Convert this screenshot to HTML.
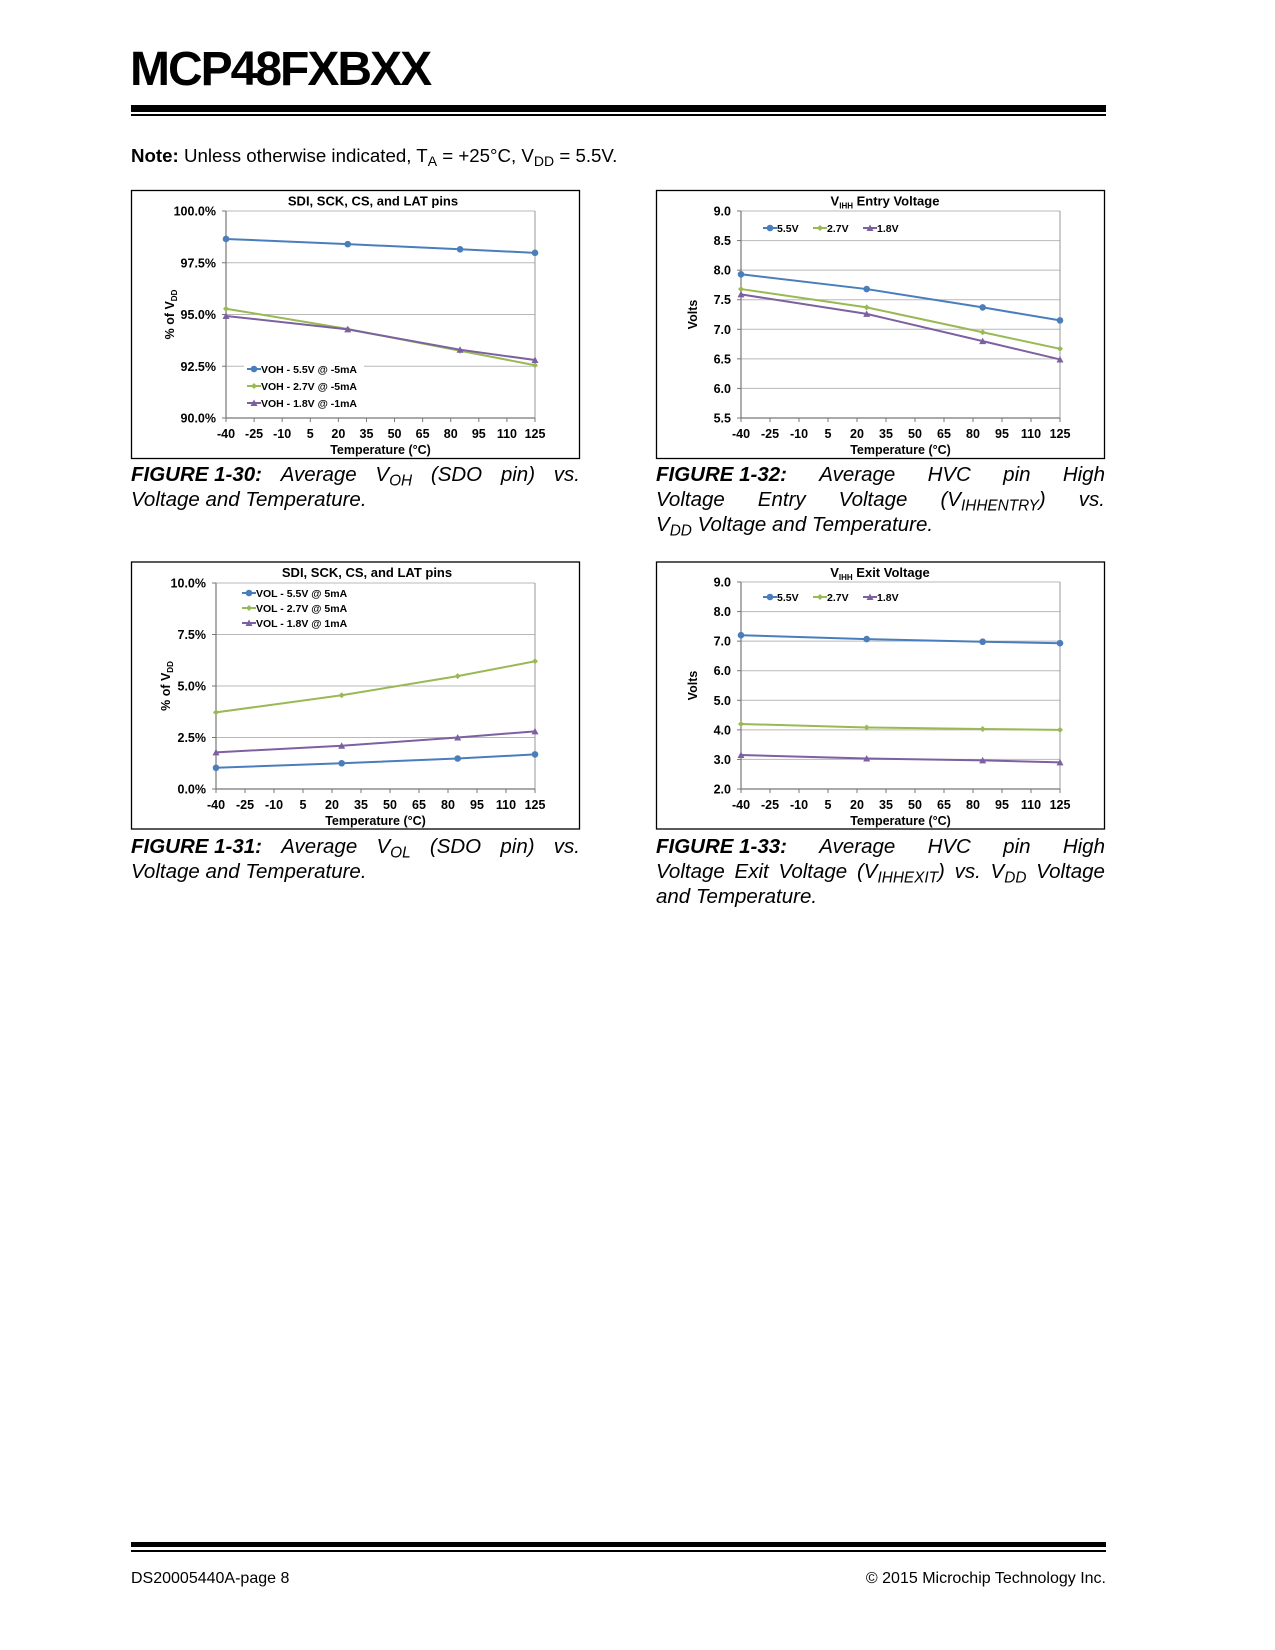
<!DOCTYPE html>
<html><head><meta charset="utf-8">
<style>
body{margin:0;background:#fff;}
#page{position:relative;width:1275px;height:1650px;background:#fff;font-family:"Liberation Sans",Arial,sans-serif;color:#000;overflow:hidden;}
.abs{position:absolute;}
.cap{position:absolute;font-size:20.5px;font-style:italic;line-height:25px;width:449px;}
.cap div{text-align:justify;text-align-last:justify;white-space:nowrap;display:flex;justify-content:space-between;}
.cap div.last{display:block;text-align-last:left;}
.cap b{font-weight:bold;}
sub{font-size:0.75em;vertical-align:-0.3em;line-height:0;}
</style></head>
<body>
<div id="page">
<div class="abs" style="left:130px;top:42px;font-size:48px;font-weight:bold;letter-spacing:-2px;">MCP48FXBXX</div>
<div class="abs" style="left:131px;top:105px;width:975px;height:7px;background:#000;"></div>
<div class="abs" style="left:131px;top:114px;width:975px;height:2px;background:#000;"></div>
<div class="abs" style="left:131px;top:145px;font-size:18.7px;"><b>Note:</b> Unless otherwise indicated, T<sub>A</sub> = +25°C, V<sub>DD</sub> = 5.5V.</div>

<svg id="charts" class="abs" style="left:0;top:0" width="1275" height="1650"></svg>

<div class="cap" style="left:131px;top:462px;">
<div><span><b>FIGURE 1-30:</b></span><span>Average</span><span>V<sub>OH</sub></span><span>(SDO</span><span>pin)</span><span>vs.</span></div>
<div class="last">Voltage and Temperature.</div></div>
<div class="cap" style="left:656px;top:462px;">
<div><span><b>FIGURE 1-32:</b></span><span>Average</span><span>HVC</span><span>pin</span><span>High</span></div>
<div><span>Voltage</span><span>Entry</span><span>Voltage</span><span>(V<sub>IHHENTRY</sub>)</span><span>vs.</span></div>
<div class="last">V<sub>DD</sub> Voltage and Temperature.</div></div>
<div class="cap" style="left:131px;top:834px;">
<div><span><b>FIGURE 1-31:</b></span><span>Average</span><span>V<sub>OL</sub></span><span>(SDO</span><span>pin)</span><span>vs.</span></div>
<div class="last">Voltage and Temperature.</div></div>
<div class="cap" style="left:656px;top:834px;">
<div><span><b>FIGURE 1-33:</b></span><span>Average</span><span>HVC</span><span>pin</span><span>High</span></div>
<div><span>Voltage</span><span>Exit</span><span>Voltage</span><span>(V<sub>IHHEXIT</sub>)</span><span>vs.</span><span>V<sub>DD</sub></span><span>Voltage</span></div>
<div class="last">and Temperature.</div></div>

<div class="abs" style="left:131px;top:1542px;width:975px;height:5px;background:#000;"></div>
<div class="abs" style="left:131px;top:1550px;width:975px;height:2px;background:#000;"></div>
<div class="abs" style="left:131px;top:1570px;font-size:16px;">DS20005440A-page 8</div>
<div class="abs" style="right:169px;top:1570px;font-size:16px;">© 2015 Microchip Technology Inc.</div>
</div>
<script>
const temps = [-40, 25, 85, 125];
const xTicks = [-40,-25,-10,5,20,35,50,65,80,95,110,125];
const seriesNames30 = ["VOH - 5.5V @ -5mA","VOH - 2.7V @ -5mA","VOH - 1.8V @ -1mA"];
const voh55 = [98.65, 98.4, 98.15, 97.98];
const voh27 = [95.28, 94.3, 93.25, 92.55];
const voh18 = [94.93, 94.28, 93.3, 92.8];
const yTicks30 = [90, 92.5, 95, 97.5, 100];
const seriesNames31 = ["VOL - 5.5V @ 5mA","VOL - 2.7V @ 5mA","VOL - 1.8V @ 1mA"];
const vol55 = [1.03, 1.25, 1.48, 1.68];
const vol27 = [3.72, 4.55, 5.48, 6.2];
const vol18 = [1.78, 2.1, 2.5, 2.8];
const yTicks31 = [0, 2.5, 5, 7.5, 10];
const seriesNamesV = ["5.5V","2.7V","1.8V"];
const entry55 = [7.93, 7.68, 7.37, 7.15];
const entry27 = [7.68, 7.37, 6.95, 6.67];
const entry18 = [7.59, 7.26, 6.8, 6.49];
const yTicks32 = [5.5, 6, 6.5, 7, 7.5, 8, 8.5, 9];
const exit55 = [7.2, 7.07, 6.98, 6.93];
const exit27 = [4.2, 4.08, 4.03, 4.0];
const exit18 = [3.15, 3.03, 2.97, 2.9];
const yTicks33 = [2, 3, 4, 5, 6, 7, 8, 9];

const NS="http://www.w3.org/2000/svg";
const svg=document.getElementById('charts');
const colors=["#4a7ebb","#98b954","#7d60a0"];
function mk(tag,attrs,parent,text){const e=document.createElementNS(NS,tag);for(const k in attrs)e.setAttribute(k,attrs[k]);if(text!==undefined)e.textContent=text;(parent||svg).appendChild(e);return e;}
function marker(g,type,x,y,c){
  if(type===0){const m=mk('circle',{cx:x,cy:y,r:3.3,fill:c},g);}
  else if(type===1){const m=mk('path',{d:`M${x-3} ${y}L${x} ${y-3}L${x+3} ${y}L${x} ${y+3}Z`,fill:c},g);}
  else {const m=mk('path',{d:`M${x-3.5} ${y+3}L${x} ${y-3.5}L${x+3.5} ${y+3}Z`,fill:c},g);}
}
function chart(o){
  const g=mk('g',{});
  
  
  const fr=mk('rect',{x:o.box[0],y:o.box[1],width:o.box[2],height:o.box[3],fill:'#fff',stroke:'#000','stroke-width':1.3},g);
  
  const [L,T,R,B]=o.plot;
  const ymin=o.yTicks[0], ymax=o.yTicks[o.yTicks.length-1];
  const X=v=>L+(v-(-40))/(165)*(R-L);
  const Y=v=>B-(v-ymin)/(ymax-ymin)*(B-T);
  o.yTicks.forEach(t=>{
    const gl=mk('line',{x1:L,x2:R,y1:Y(t),y2:Y(t),stroke:'#b8b8b8','stroke-width':1},g);
    
    mk('line',{x1:L-4,x2:L,y1:Y(t),y2:Y(t),stroke:'#777'},g);
    const tl=mk('text',{x:L-10,y:Y(t)+4.5,'text-anchor':'end','font-size':12.5,'font-weight':'bold'},g,o.fmt(t));
    
  });
  mk('line',{x1:R,x2:R,y1:T,y2:B,stroke:'#999'},g);
  const ya=mk('line',{x1:L,x2:L,y1:T,y2:B,stroke:'#777','stroke-width':1.2},g);
  
  const xa=mk('line',{x1:L,x2:R,y1:B,y2:B,stroke:'#777','stroke-width':1.2},g);
  
  xTicks.forEach(t=>{
    mk('line',{x1:X(t),x2:X(t),y1:B,y2:B+4,stroke:'#777'},g);
    const tl=mk('text',{x:X(t),y:B+20,'text-anchor':'middle','font-size':12.5,'font-weight':'bold'},g,String(t));
    
  });
  const xt=mk('text',{x:(L+R)/2,y:B+36,'text-anchor':'middle','font-size':12.5,'font-weight':'bold'},g,'Temperature (°C)');
  
  const tt=mk('text',{x:o.titleX,y:o.box[1]+15,'text-anchor':'middle','font-size':13,'font-weight':'bold'},g);
  
  if(o.sub){mk('tspan',{},tt,'V');mk('tspan',{'font-size':8,dy:3},tt,'IHH');mk('tspan',{dy:-3},tt,' '+o.title);}
  else tt.textContent=o.title;
  const yt=mk('text',{transform:`translate(${o.ytX},${(T+B)/2}) rotate(-90)`,'text-anchor':'middle','font-size':12.5,'font-weight':'bold'},g);
  
  if(o.yPct){mk('tspan',{},yt,'% of V');mk('tspan',{'font-size':8,dy:3},yt,'DD');}
  else yt.textContent='Volts';
  mk('rect',{x:o.legBg[0],y:o.legBg[1],width:o.legBg[2],height:o.legBg[3],fill:'#fff'},g);
  o.series.forEach((s,i)=>{
    const c=colors[i];
    const pts=temps.map((t,j)=>X(t)+','+Y(s[j])).join(' ');
    const pl=mk('polyline',{points:pts,fill:'none',stroke:c,'stroke-width':2},g);
    
    
    temps.forEach((t,j)=>marker(g,i,X(t),Y(s[j]),c));
    const [lx,ly]=o.leg(i);
    const lg=mk('g',{},g);
    
    
    mk('line',{x1:lx,x2:lx+14,y1:ly,y2:ly,stroke:c,'stroke-width':2},lg);
    marker(lg,i,lx+7,ly,c);
    mk('text',{x:lx+14,y:ly+4,'font-size':10.5,'font-weight':'bold'},lg,o.names[i]);
  });
}
const pctFmt=t=>t.toFixed(1)+'%';
const vFmt=t=>t.toFixed(1);
chart({name:'chart-fig-1-30',box:[131.5,190.5,448,268],plot:[226,211,535,418],yTicks:yTicks30,fmt:pctFmt,yPct:true,ytX:174,
  title:'SDI, SCK, CS, and LAT pins',titleX:373,series:[voh55,voh27,voh18],names:seriesNames30,
  legBg:[244,360,120,50],leg:i=>[247,369+i*17]});
chart({name:'chart-fig-1-32',box:[656.5,190.5,448,268],plot:[741,211,1060,418],yTicks:yTicks32,fmt:vFmt,ytX:697,
  title:'Entry Voltage',sub:true,titleX:885,series:[entry55,entry27,entry18],names:seriesNamesV,
  legBg:[750,216,160,22],leg:i=>[763+i*50,228]});
chart({name:'chart-fig-1-31',box:[131.5,562,448,267],plot:[216,583,535,789],yTicks:yTicks31,fmt:pctFmt,yPct:true,ytX:170,
  title:'SDI, SCK, CS, and LAT pins',titleX:367,series:[vol55,vol27,vol18],names:seriesNames31,
  legBg:[238,585,120,45],leg:i=>[242,593+i*15]});
chart({name:'chart-fig-1-33',box:[656.5,562,448,267],plot:[741,582,1060,789],yTicks:yTicks33,fmt:vFmt,ytX:697,
  title:'Exit Voltage',sub:true,titleX:880,series:[exit55,exit27,exit18],names:seriesNamesV,
  legBg:[750,586,160,22],leg:i=>[763+i*50,597]});
</script>
</body></html>
